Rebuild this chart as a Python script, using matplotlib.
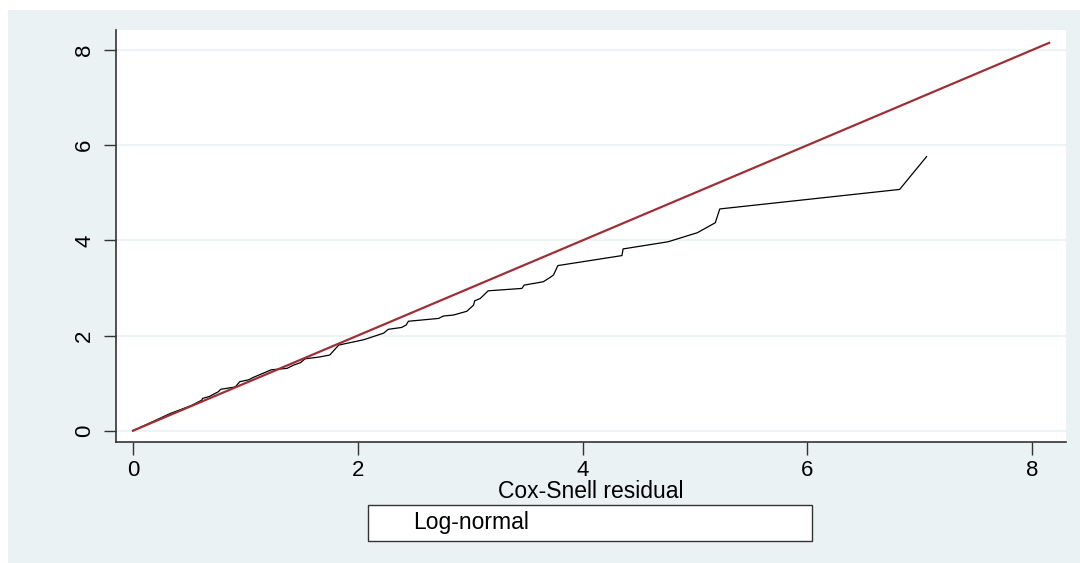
import matplotlib.pyplot as plt
from matplotlib.patches import Rectangle

plt.rcParams['font.family'] = ['Liberation Sans', 'DejaVu Sans']

# --- данные: кумулятивный риск (Нельсон-Аален) против остатков Кокса-Снелла ---
cs_resid = [0.0, 0.33, 0.52, 0.61, 0.62, 0.68, 0.76, 0.78, 0.91, 0.95, 1.03, 1.07,
            1.16, 1.23, 1.37, 1.43, 1.49, 1.53, 1.66, 1.75, 1.80, 1.83, 2.05, 2.23,
            2.27, 2.39, 2.43, 2.45, 2.72, 2.76, 2.85, 2.97, 3.03, 3.04, 3.09, 3.16,
            3.46, 3.48, 3.65, 3.71, 3.74, 3.78, 4.35, 4.36, 4.76, 5.02, 5.18, 5.22,
            6.82, 7.06]
cum_hazard = [0.0, 0.36, 0.53, 0.64, 0.68, 0.72, 0.82, 0.87, 0.92, 1.03, 1.07, 1.12,
              1.21, 1.28, 1.31, 1.38, 1.43, 1.51, 1.55, 1.59, 1.72, 1.80, 1.91, 2.05,
              2.13, 2.17, 2.22, 2.30, 2.36, 2.41, 2.43, 2.51, 2.64, 2.73, 2.78, 2.94,
              2.99, 3.06, 3.13, 3.22, 3.27, 3.47, 3.68, 3.82, 3.97, 4.16, 4.37, 4.66,
              5.07, 5.76]
ref_line = [0.0, 8.15]
ticks = [0, 2, 4, 6, 8]

W, H = 1080, 563
bg = '#eaf2f3'
fig = plt.figure(figsize=(W / 100, H / 100), dpi=100, facecolor='white')
fig.patches.append(Rectangle((8 / W, 0), 1 - 8 / W, (H - 10) / H,
                             transform=fig.transFigure, facecolor=bg,
                             edgecolor='none', zorder=-10))

ax = fig.add_axes([116 / W, (H - 442) / H, (1066 - 116) / W, (442 - 30) / H])
ax.set_facecolor('white')

ax.plot(cs_resid, cum_hazard, color='black', lw=0.9, zorder=3)
ax.plot(ref_line, ref_line, color='#9e2f35', lw=1.6, zorder=4)

ax.set_xlim(-0.151, 8.30)
ax.set_ylim(-0.237, 8.42)
ax.set_xticks(ticks)
ax.set_yticks(ticks)
ax.tick_params(axis='both', labelsize=16, length=9, width=1, color='#333333')
ax.tick_params(axis='x', pad=4)
ax.tick_params(axis='y', labelrotation=90, pad=6)
for lab in ax.get_yticklabels():
    lab.set_va('center')
ax.grid(axis='y', color=bg, lw=1.2, zorder=0)
ax.grid(axis='x', visible=False)

for s in ['top', 'right']:
    ax.spines[s].set_visible(False)
for s in ['left', 'bottom']:
    ax.spines[s].set_color('#333333')
    ax.spines[s].set_linewidth(1.2)

ax.set_xlabel('Cox-Snell residual', fontsize=16.5, va='center')
ax.xaxis.set_label_coords(0.5, (442 - 491) / 412)

# легенда
fig.patches.append(Rectangle((368 / W, (H - 541) / H), (812 - 368) / W, 36 / H,
                             transform=fig.transFigure, facecolor='white',
                             edgecolor='#333333', lw=1))
fig.text(413 / W, (H - 522) / H, 'Log-normal', fontsize=16.5, va='center', ha='left')

plt.savefig('out.png', dpi=100, facecolor=fig.get_facecolor())
